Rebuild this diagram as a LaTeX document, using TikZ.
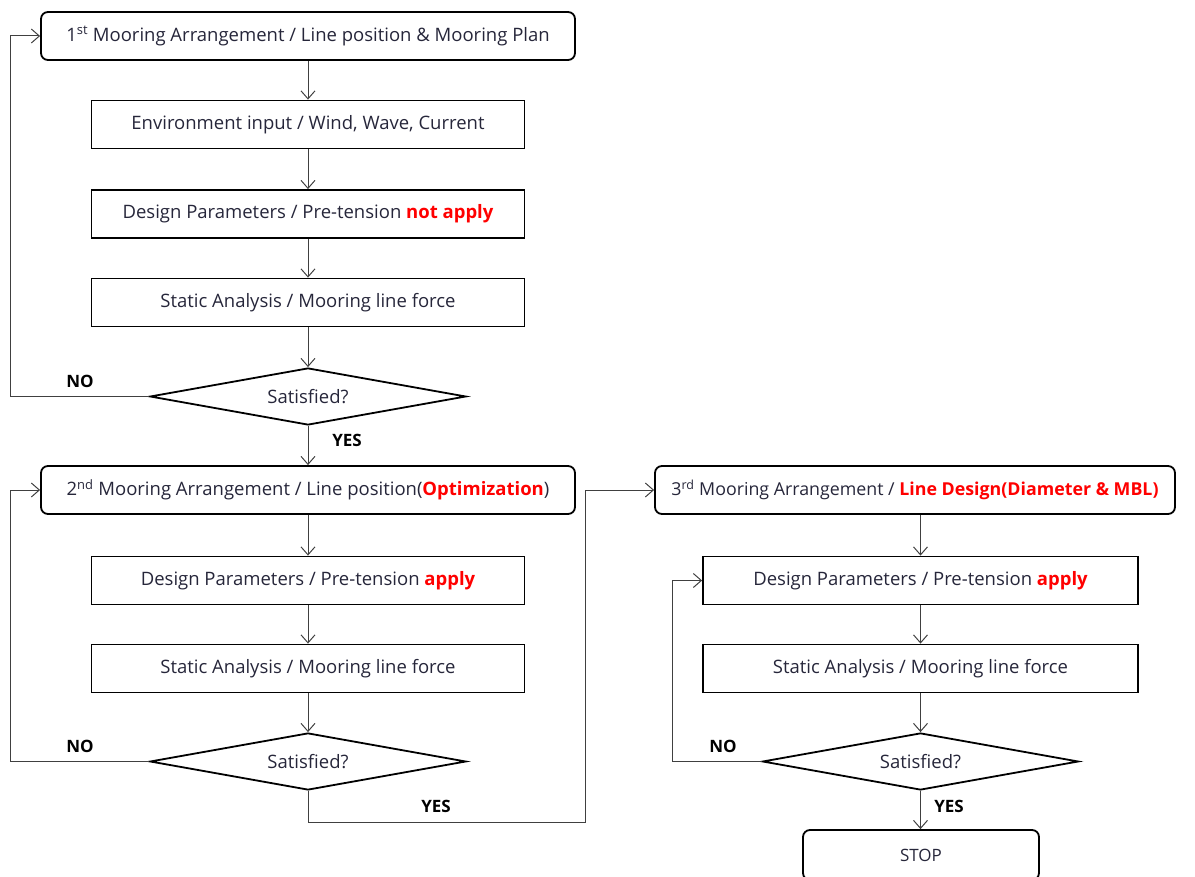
\documentclass[tikz,border=0pt]{standalone}
\usepackage{fontspec}
\setmainfont{Open Sans}
\usetikzlibrary{arrows.meta,shapes.geometric}
\definecolor{txt}{RGB}{38,38,58}
\definecolor{redtxt}{RGB}{255,0,0}
\definecolor{linec}{RGB}{64,64,64}
\begin{document}
\begin{tikzpicture}[x=1pt,y=-1pt,
  every node/.style={font=\fontsize{18.5}{21}\selectfont, text=txt},
  rbox/.style={draw=black, line width=1.8pt, rounded corners=7pt, minimum width=534pt, minimum height=48pt, inner sep=0pt},
  sbox/.style={draw=black, line width=1.8pt, minimum width=433pt, minimum height=48pt, inner sep=0pt},
  dec/.style={draw=black, line width=1.8pt, diamond, aspect=5.5, minimum width=316pt, minimum height=57pt, inner sep=0pt},
  conn/.style={draw=linec, line width=1pt, -{Straight Barb[length=8pt,width=14pt,line width=1pt]}},
  lbl/.style={font=\fontsize{17}{19}\selectfont\bfseries, text=black}
]
\useasboundingbox (0,0) rectangle (1195,877);
% column 1
\node[rbox] (a1) at (308,36) {1\textsuperscript{st} Mooring Arrangement / Line position \& Mooring Plan};
\node[sbox] (a2) at (308,124.5) {Environment input / Wind, Wave, Current};
\node[sbox] (a3) at (308,214) {Design Parameters / Pre-tension \textcolor{redtxt}{\bfseries not apply}};
\node[sbox] (a4) at (308,302.5) {Static Analysis / Mooring line force};
\node[dec] (d1) at (308,396.5) {Satisfied?};
\node[rbox] (b1) at (308,490) {2\textsuperscript{nd} Mooring Arrangement / Line position(\textcolor{redtxt}{\bfseries Optimization})};
\node[sbox] (b2) at (308,580.5) {Design Parameters / Pre-tension \textcolor{redtxt}{\bfseries apply}};
\node[sbox] (b3) at (308,668.5) {Static Analysis / Mooring line force};
\node[dec] (d2) at (308,761.5) {Satisfied?};
% column 2
\node[rbox, minimum width=520pt, font=\fontsize{17.8}{20}\selectfont] (c1) at (915,490) {3\textsuperscript{rd} Mooring Arrangement / \textcolor{redtxt}{\bfseries Line Design(Diameter \& MBL)}};
\node[sbox, minimum width=435pt] (c2) at (920.5,580.5) {Design Parameters / Pre-tension \textcolor{redtxt}{\bfseries apply}};
\node[sbox, minimum width=435pt] (c3) at (920.5,668.5) {Static Analysis / Mooring line force};
\node[dec] (d3) at (920.5,761.5) {Satisfied?};
\node[rbox, minimum width=236pt, minimum height=50pt, font=\fontsize{17}{19}\selectfont] (stop) at (921,855) {STOP};
% connectors column 1
\draw[conn] (a1.south) -- (a2.north);
\draw[conn] (a2.south) -- (a3.north);
\draw[conn] (a3.south) -- (a4.north);
\draw[conn] (a4.south) -- (d1.north);
\draw[conn] (d1.south) -- (b1.north);
\draw[conn] (d1.west) -| (10,36) -- (a1.west);
\draw[conn] (b1.south) -- (b2.north);
\draw[conn] (b2.south) -- (b3.north);
\draw[conn] (b3.south) -- (d2.north);
\draw[conn] (d2.west) -| (10,490) -- (b1.west);
\draw[conn] (d2.south) |- (585,822) -- (585,490) -- (c1.west);
% connectors column 2
\draw[conn] (920.5,515) -- (c2.north);
\draw[conn] (c2.south) -- (c3.north);
\draw[conn] (c3.south) -- (d3.north);
\draw[conn] (d3.west) -| (672,580.5) -- (c2.west);
\draw[conn] (d3.south) -- (d3.south |- stop.north);
% labels
\node[lbl] at (80,381) {NO};
\node[lbl] at (347,440) {YES};
\node[lbl] at (80,746) {NO};
\node[lbl] at (436,806) {YES};
\node[lbl] at (723,746) {NO};
\node[lbl] at (949,806) {YES};
\end{tikzpicture}
\end{document}
